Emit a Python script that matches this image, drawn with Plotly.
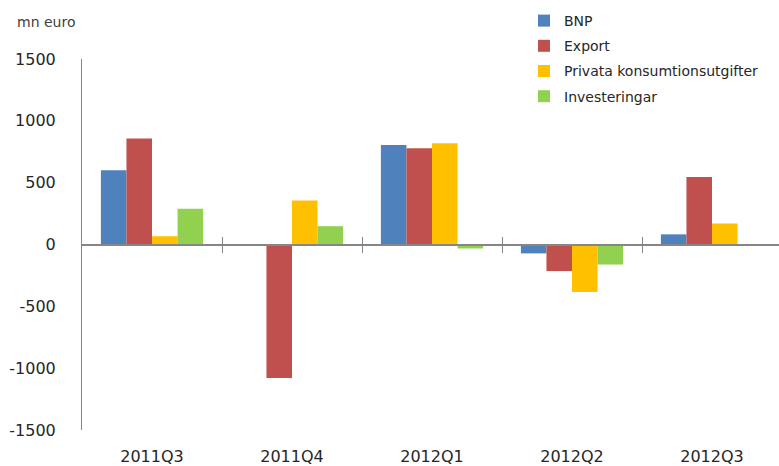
import plotly.graph_objects as go

quarters = ["2011Q3", "2011Q4", "2012Q1", "2012Q2", "2012Q3"]
bnp = [600, None, 805, -72, 82]
export = [857, -1080, 778, -215, 545]
privata = [67, 355, 818, -385, 170]
invest = [290, 148, -32, -162, None]
series_names = ["BNP", "Export", "Privata konsumtionsutgifter", "Investeringar"]
series_colors = ["#4F81BD", "#C0504D", "#FFC000", "#92D050"]
y_ticks = [-1500, -1000, -500, 0, 500, 1000, 1500]
y_tick_labels = [str(v) for v in y_ticks]

W, H = 779, 466
ML, MR, MT, MB = 82, 0, 59, 36
pw = W - ML - MR
ph = H - MT - MB

fig = go.Figure()
for name, vals, col in zip(series_names, [bnp, export, privata, invest], series_colors):
    fig.add_trace(go.Bar(x=quarters, y=vals, name=name, marker_color=col,
                         marker_line_width=0, legendgroup=name))

n = len(quarters)
xr = [-0.5, n - 0.5 - 3 / 140]
font_family = "DejaVu Sans"

fig.update_layout(
    width=W, height=H,
    margin=dict(l=ML, r=MR, t=MT, b=MB, pad=0, autoexpand=False),
    paper_bgcolor="white", plot_bgcolor="white",
    barmode="group", bargap=0.27, bargroupgap=0,
    font=dict(family=font_family, size=16, color="#262626"),
    showlegend=True,
    legend=dict(orientation="v", x=(524 - ML) / pw, xanchor="left",
                y=1 + (MT - 5) / ph, yanchor="top",
                font=dict(size=14, color="#262626", family=font_family),
                tracegroupgap=4, bgcolor="rgba(0,0,0,0)"),
    xaxis=dict(type="category", categoryarray=quarters, range=xr, automargin=False,
               showline=False, showgrid=False, zeroline=False,
               ticks="outside", ticklen=12, tickcolor="rgba(0,0,0,0)",
               tickfont=dict(size=16, color="#262626")),
    xaxis2=dict(overlaying="x", anchor="free", position=0.5, range=xr, automargin=False,
                tickvals=[i + 0.5 for i in range(n - 1)], showticklabels=False,
                ticks="outside", ticklen=8, tickcolor="#868686", tickwidth=1,
                showline=True, linecolor="#868686", linewidth=1.5,
                showgrid=False, zeroline=False),
    xaxis3=dict(overlaying="x", anchor="free", position=0.5, range=xr, automargin=False,
                tickvals=[i + 0.5 for i in range(n - 1)], showticklabels=False,
                ticks="inside", ticklen=8, tickcolor="#868686", tickwidth=1,
                showline=False, showgrid=False, zeroline=False),
    yaxis=dict(range=[-1500, 1500], tickvals=y_ticks, ticktext=y_tick_labels,
               automargin=False,
               showline=True, linecolor="#868686", linewidth=1,
               showgrid=False, zeroline=False,
               ticks="outside", ticklen=22, tickcolor="rgba(0,0,0,0)",
               tickfont=dict(size=16, color="#262626")),
    annotations=[dict(text="mn euro", xref="paper", yref="paper",
                      x=(15 - ML) / pw, y=1 + (MT - 22) / ph,
                      xanchor="left", yanchor="middle", showarrow=False,
                      font=dict(size=14, color="#404040", family=font_family))],
)

# invisible helper traces so overlay axes are rendered
fig.add_trace(go.Scatter(x=[0], y=[0], xaxis="x2", mode="markers",
                         marker=dict(opacity=0), showlegend=False, hoverinfo="skip"))
fig.add_trace(go.Scatter(x=[0], y=[0], xaxis="x3", mode="markers",
                         marker=dict(opacity=0), showlegend=False, hoverinfo="skip"))

fig.write_html("out.html", config={"displayModeBar": False},
               post_script="document.body.style.margin='0px';document.body.style.overflow='hidden';")
